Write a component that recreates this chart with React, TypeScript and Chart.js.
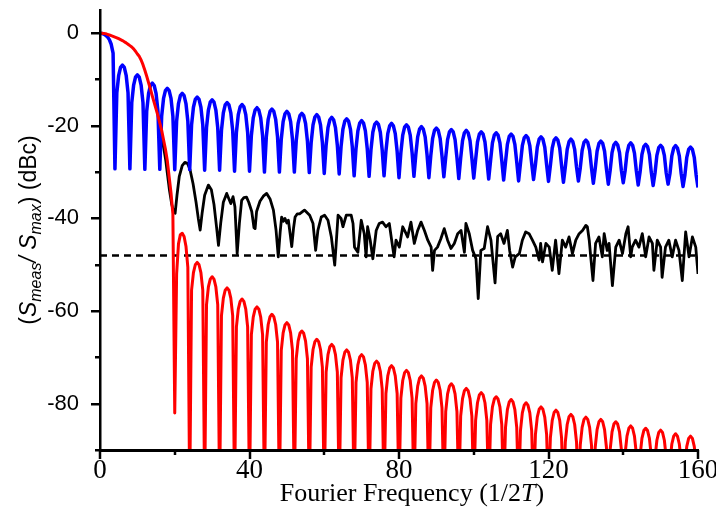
import React, { useEffect, useRef } from 'react';
import { Chart, registerables } from 'chart.js';

Chart.register(...registerables);

// ---------------- data ----------------
// Both modelled spectra are sampled every 0.5 units of Fourier frequency, starting at 0.
const FREQ_STEP = 0.5;

// Blue trace (dBc), samples at 0, 0.5, 1, ... 160
const blueDb: number[] = [
  0, -0.05, -0.2, -0.45, -0.8, -1.4, -2.4, -4.3,
  -29.3, -12.9, -9.1, -7.4, -6.9, -7.4, -9.1, -12.9,
  -29.3, -15.0, -11.2, -9.5, -9.0, -9.5, -11.2, -15.0,
  -29.4, -16.8, -13.0, -11.3, -10.8, -11.3, -13.0, -16.8,
  -29.4, -17.9, -14.1, -12.4, -11.9, -12.4, -14.1, -17.9,
  -29.5, -19.0, -15.2, -13.5, -13.0, -13.5, -15.2, -19.0,
  -29.5, -19.8, -16.0, -14.3, -13.8, -14.3, -16.0, -19.8,
  -29.6, -20.4, -16.6, -14.9, -14.4, -14.9, -16.6, -20.4,
  -29.6, -21.0, -17.2, -15.5, -15.0, -15.5, -17.2, -21.0,
  -29.8, -21.4, -17.6, -15.9, -15.4, -15.9, -17.6, -21.4,
  -29.8, -22.1, -18.3, -16.6, -16.1, -16.6, -18.3, -22.1,
  -30.0, -22.4, -18.6, -16.9, -16.4, -16.9, -18.6, -22.4,
  -30.0, -22.9, -19.1, -17.4, -16.9, -17.4, -19.1, -22.9,
  -30.0, -23.3, -19.5, -17.8, -17.3, -17.8, -19.5, -23.3,
  -30.1, -23.6, -19.8, -18.1, -17.6, -18.1, -19.8, -23.6,
  -30.3, -24.2, -20.4, -18.7, -18.2, -18.7, -20.4, -24.2,
  -30.4, -24.5, -20.7, -19.0, -18.5, -19.0, -20.7, -24.5,
  -30.8, -24.9, -21.1, -19.4, -18.9, -19.4, -21.1, -24.9,
  -30.9, -25.2, -21.4, -19.7, -19.2, -19.7, -21.4, -25.2,
  -30.8, -25.5, -21.7, -20.0, -19.5, -20.0, -21.7, -25.5,
  -31.2, -25.8, -22.0, -20.3, -19.8, -20.3, -22.0, -25.8,
  -30.9, -26.2, -22.4, -20.7, -20.2, -20.7, -22.4, -26.2,
  -31.2, -26.5, -22.7, -21.0, -20.5, -21.0, -22.7, -26.5,
  -31.0, -26.8, -23.0, -21.3, -20.8, -21.3, -23.0, -26.8,
  -31.4, -27.0, -23.2, -21.5, -21.0, -21.5, -23.2, -27.0,
  -31.3, -27.3, -23.5, -21.8, -21.3, -21.8, -23.5, -27.3,
  -31.5, -27.5, -23.7, -22.0, -21.5, -22.0, -23.7, -27.5,
  -31.7, -27.8, -24.0, -22.3, -21.8, -22.3, -24.0, -27.8,
  -31.9, -28.1, -24.3, -22.6, -22.1, -22.6, -24.3, -28.1,
  -31.6, -28.4, -24.6, -22.9, -22.4, -22.9, -24.6, -28.4,
  -32.0, -28.6, -24.8, -23.1, -22.6, -23.1, -24.8, -28.6,
  -32.2, -28.9, -25.1, -23.4, -22.9, -23.4, -25.1, -28.9,
  -31.9, -29.1, -25.3, -23.6, -23.1, -23.6, -25.3, -29.1,
  -32.4, -29.3, -25.5, -23.8, -23.3, -23.8, -25.5, -29.3,
  -32.6, -29.6, -25.8, -24.1, -23.6, -24.1, -25.8, -29.6,
  -32.3, -29.7, -25.9, -24.2, -23.7, -24.2, -25.9, -29.7,
  -32.8, -30.0, -26.2, -24.5, -24.0, -24.5, -26.2, -30.0,
  -32.9, -30.2, -26.4, -24.7, -24.2, -24.7, -26.4, -30.2,
  -32.6, -30.3, -26.5, -24.8, -24.3, -24.8, -26.5, -30.3,
  -33.1, -30.6, -26.8, -25.1, -24.6, -25.1, -26.8, -30.6,
  -33.3,
];

// Red trace (dBc), samples at 0, 0.5, 1, ... 160 (nulls fall below the -90 floor)
const redDb: number[] = [
  0, 0, -0.05, -0.1, -0.25, -0.4, -0.55, -0.7,
  -0.85, -1.0, -1.2, -1.4, -1.6, -1.85, -2.1, -2.4,
  -2.7, -3.0, -3.4, -3.9, -4.5, -5.0, -5.8, -6.8,
  -8.0, -9.3, -10.7, -12.1, -13.6, -15.0, -16.4, -17.8,
  -19.4, -21.0, -23.0, -25.0, -27.5, -31.0, -34.5, -39.0,
  -82.0, -52.0, -45.5, -43.5, -43.2, -43.9, -46.0, -50.5,
  -100, -55.5, -51.7, -50.0, -49.5, -50.0, -51.7, -55.5,
  -100, -58.6, -54.8, -53.1, -52.6, -53.1, -54.8, -58.6,
  -100, -61.0, -57.2, -55.5, -55.0, -55.5, -57.2, -61.0,
  -100, -63.4, -59.6, -57.9, -57.4, -57.9, -59.6, -63.4,
  -100, -65.1, -61.3, -59.6, -59.1, -59.6, -61.3, -65.1,
  -100, -66.7, -62.9, -61.2, -60.7, -61.2, -62.9, -66.7,
  -100, -68.5, -64.7, -63.0, -62.5, -63.0, -64.7, -68.5,
  -100, -70.3, -66.5, -64.8, -64.3, -64.8, -66.5, -70.3,
  -100, -72.1, -68.3, -66.6, -66.1, -66.6, -68.3, -72.1,
  -100, -73.2, -69.4, -67.7, -67.2, -67.7, -69.4, -73.2,
  -100, -74.4, -70.6, -68.9, -68.4, -68.9, -70.6, -74.4,
  -100, -75.4, -71.6, -69.9, -69.4, -69.9, -71.6, -75.4,
  -100, -76.8, -73.0, -71.3, -70.8, -71.3, -73.0, -76.8,
  -100, -77.8, -74.0, -72.3, -71.8, -72.3, -74.0, -77.8,
  -100, -78.8, -75.0, -73.3, -72.8, -73.3, -75.0, -78.8,
  -100, -80.0, -76.2, -74.5, -74.0, -74.5, -76.2, -80.0,
  -100, -80.9, -77.1, -75.4, -74.9, -75.4, -77.1, -80.9,
  -100, -81.7, -77.9, -76.2, -75.7, -76.2, -77.9, -81.7,
  -100, -82.7, -78.9, -77.2, -76.7, -77.2, -78.9, -82.7,
  -100, -83.6, -79.8, -78.1, -77.6, -78.1, -79.8, -83.6,
  -100, -84.5, -80.7, -79.0, -78.5, -79.0, -80.7, -84.5,
  -100, -85.1, -81.3, -79.6, -79.1, -79.6, -81.3, -85.1,
  -100, -85.8, -82.0, -80.3, -79.8, -80.3, -82.0, -85.8,
  -100, -86.7, -82.9, -81.2, -80.7, -81.2, -82.9, -86.7,
  -100, -87.4, -83.6, -81.9, -81.4, -81.9, -83.6, -87.4,
  -100, -88.3, -84.5, -82.8, -82.3, -82.8, -84.5, -88.3,
  -100, -88.9, -85.1, -83.4, -82.9, -83.4, -85.1, -88.9,
  -100, -89.4, -85.6, -83.9, -83.4, -83.9, -85.6, -89.4,
  -100, -89.9, -86.1, -84.4, -83.9, -84.4, -86.1, -89.9,
  -100, -90.8, -87.0, -85.3, -84.8, -85.3, -87.0, -90.8,
  -100, -91.3, -87.5, -85.8, -85.3, -85.8, -87.5, -91.3,
  -100, -91.7, -87.9, -86.2, -85.7, -86.2, -87.9, -91.7,
  -100, -92.5, -88.7, -87.0, -86.5, -87.0, -88.7, -92.5,
  -100, -93.0, -89.2, -87.5, -87.0, -87.5, -89.2, -93.0,
  -100,
];

// Black measured trace: [frequency, dBc]
const blackTrace: [number, number][] = [
  [16.1, -21.0], [16.6, -23.0], [17.1, -25.0], [17.6, -27.5], [18.1, -30.8], [18.6, -34.0],
  [19.2, -37.0], [19.7, -38.6], [20.1, -38.9], [20.6, -35.0], [21.2, -31.0], [22.0, -28.6],
  [22.7, -27.9], [23.4, -28.1], [24.1, -29.5], [24.9, -32.5], [25.7, -36.5], [26.3, -40.0],
  [26.8, -42.5], [27.3, -39.0], [28.0, -35.0], [29.0, -32.8], [29.8, -33.8], [30.5, -37.0],
  [31.2, -42.0], [31.7, -45.8], [32.3, -41.0], [33.0, -36.5], [33.9, -34.6], [34.5, -35.8],
  [35.0, -36.8], [35.6, -35.3], [36.1, -37.5], [36.7, -47.6], [37.3, -41.0], [37.9, -36.1],
  [38.5, -35.5], [39.2, -35.4], [39.8, -36.5], [40.6, -38.5], [41.2, -42.0], [41.5, -42.2],
  [41.9, -38.5], [42.8, -36.3], [43.7, -35.2], [44.6, -34.6], [45.5, -35.8], [46.4, -38.2],
  [47.1, -42.5], [47.7, -48.3], [48.2, -43.0], [48.6, -39.7], [49.1, -40.6], [49.5, -40.0],
  [50.0, -41.0], [50.4, -40.4], [50.9, -43.5], [51.3, -46.1], [51.8, -42.0], [52.2, -39.7],
  [52.8, -39.0], [53.4, -39.0], [54.7, -38.2], [56.1, -39.3], [57.0, -41.1], [57.7, -46.9],
  [58.3, -42.6], [59.2, -39.7], [60.1, -39.3], [61.0, -40.4], [61.9, -44.0], [62.8, -50.1],
  [63.2, -45.4], [63.7, -39.3], [64.5, -40.0], [65.0, -41.8], [65.9, -39.3], [67.2, -39.3],
  [67.7, -41.1], [68.1, -46.2], [69.0, -47.3], [69.9, -40.4], [70.7, -43.3], [71.2, -48.3],
  [71.6, -41.8], [72.3, -44.7], [73.0, -48.7], [73.9, -42.6], [74.7, -41.1], [75.6, -40.8],
  [76.5, -41.8], [77.4, -41.1], [78.3, -46.2], [78.7, -48.3], [79.2, -44.7], [80.1, -46.2],
  [81.0, -41.8], [81.9, -43.3], [82.3, -44.0], [83.2, -40.8], [84.1, -45.4], [85.0, -42.6],
  [85.9, -40.8], [86.8, -42.6], [87.7, -44.7], [88.6, -46.2], [89.0, -51.2], [89.5, -46.9],
  [90.3, -46.2], [91.2, -44.4], [92.1, -42.2], [93.0, -44.7], [93.9, -46.5], [94.8, -45.4],
  [95.7, -43.3], [96.6, -42.6], [97.5, -47.3], [97.9, -41.1], [98.8, -43.3], [99.7, -46.9],
  [100.6, -48.7], [101.2, -57.3], [101.9, -46.9], [102.8, -46.5], [103.7, -41.8], [104.6, -44.7],
  [105.7, -53.9], [106.4, -43.9], [107.2, -43.3], [108.1, -45.4], [109.0, -42.6], [109.6, -46.9],
  [110.4, -50.5], [111.1, -48.3], [112.2, -47.6], [113.0, -44.7], [113.9, -42.9], [114.8, -43.3],
  [115.7, -44.7], [116.6, -46.2], [117.5, -49.0], [117.9, -45.4], [118.4, -49.4], [119.3, -45.4],
  [120.2, -46.2], [121.0, -51.2], [121.9, -44.7], [122.8, -51.9], [123.7, -44.7], [124.6, -46.2],
  [125.5, -44.0], [126.4, -47.6], [127.3, -44.7], [128.2, -43.3], [129.1, -42.6], [130.0, -41.5],
  [130.4, -41.8], [130.9, -44.7], [131.3, -48.3], [131.9, -53.4], [132.6, -45.4], [133.5, -44.0],
  [134.4, -48.3], [134.9, -43.3], [135.7, -46.9], [136.2, -45.4], [137.1, -54.5], [138.0, -46.2],
  [138.9, -44.7], [139.8, -47.6], [140.7, -43.3], [141.3, -41.8], [142.0, -48.3], [142.4, -46.2],
  [143.3, -44.7], [144.2, -46.2], [145.1, -43.3], [146.0, -48.3], [146.9, -44.0], [147.8, -45.4],
  [148.2, -51.2], [149.1, -44.7], [150.0, -46.2], [150.4, -52.7], [151.3, -46.2], [152.2, -44.7],
  [153.1, -48.3], [154.0, -44.7], [154.9, -46.9], [155.8, -53.4], [156.7, -42.9], [157.6, -48.3],
  [158.5, -44.0], [159.4, -46.2], [160.0, -52.0],
];

// Dashed reference level
const thresholdDb = -48;
const thresholdSpan = [0, 160];

// Axes
const X_MIN = 0;
const X_MAX = 160;
const Y_MIN = -90;
const Y_MAX = 5;
const xTickValues = [0, 20, 40, 60, 80, 100, 120, 140, 160];
const xLabelValues = [0, 40, 80, 120, 160];
const yTickValues = [0, -10, -20, -30, -40, -50, -60, -70, -80, -90];
const yLabelValues = [0, -20, -40, -60, -80];

const SERIF = '"Liberation Serif", "Times New Roman", serif';
const SANS = '"Liberation Sans", Arial, sans-serif';

// ---------------- plugins ----------------
const tickMarksPlugin = {
  id: 'tickMarks',
  afterDraw(chart: any) {
    const { ctx, chartArea } = chart;
    const xs = chart.scales.x;
    const ys = chart.scales.y;
    ctx.save();
    ctx.strokeStyle = '#000';
    ctx.lineWidth = 2.5;
    ctx.lineCap = 'butt';
    for (const v of yTickValues) {
      const py = Math.round(ys.getPixelForValue(v)) + 0.25;
      const len = yLabelValues.includes(v) ? 9 : 5;
      ctx.beginPath();
      ctx.moveTo(chartArea.left - len, py);
      ctx.lineTo(chartArea.left, py);
      ctx.stroke();
    }
    for (const v of xTickValues) {
      const px = Math.round(xs.getPixelForValue(v));
      const len = xLabelValues.includes(v) ? 9 : 5;
      ctx.beginPath();
      ctx.moveTo(px, chartArea.bottom);
      ctx.lineTo(px, chartArea.bottom + len);
      ctx.stroke();
    }
    ctx.restore();
  },
};

type Part = { text: string; font: string; shift: number };

function drawParts(ctx: CanvasRenderingContext2D, parts: Part[], cx: number, baseline: number) {
  let total = 0;
  for (const p of parts) {
    ctx.font = p.font;
    total += ctx.measureText(p.text).width;
  }
  let x = cx - total / 2;
  for (const p of parts) {
    ctx.font = p.font;
    ctx.fillText(p.text, x, baseline + p.shift);
    x += ctx.measureText(p.text).width;
  }
}

const axisTitlesPlugin = {
  id: 'axisTitles',
  afterDraw(chart: any) {
    const { ctx, chartArea } = chart;
    ctx.save();
    ctx.fillStyle = '#000';
    ctx.textAlign = 'left';
    ctx.textBaseline = 'alphabetic';

    // x-axis title
    const xParts: Part[] = [
      { text: 'Fourier Frequency (1/2', font: `26px ${SERIF}`, shift: 0 },
      { text: 'T', font: `italic 26px ${SERIF}`, shift: 0 },
      { text: ')', font: `26px ${SERIF}`, shift: 0 },
    ];
    drawParts(ctx, xParts, (chartArea.left + chartArea.right) / 2 + 13, chartArea.bottom + 51);

    // y-axis title (rotated)
    ctx.translate(36, (chartArea.top + chartArea.bottom) / 2);
    ctx.rotate(-Math.PI / 2);
    const yParts: Part[] = [
      { text: '(', font: `23px ${SANS}`, shift: 0 },
      { text: 'S', font: `italic 23px ${SANS}`, shift: 0 },
      { text: 'meas', font: `italic 16px ${SANS}`, shift: 5 },
      { text: '/ ', font: `italic 23px ${SANS}`, shift: 0 },
      { text: 'S', font: `italic 23px ${SANS}`, shift: 0 },
      { text: 'max', font: `italic 16px ${SANS}`, shift: 5 },
      { text: ') (dBc)', font: `23px ${SANS}`, shift: 0 },
    ];
    drawParts(ctx, yParts, 0, 0);
    ctx.restore();
  },
};

// ---------------- component ----------------
export default function App() {
  const canvasRef = useRef<HTMLCanvasElement | null>(null);

  useEffect(() => {
    const canvas = canvasRef.current;
    if (!canvas) return;

    const redPoints = redDb.map((y, i) => ({ x: i * FREQ_STEP, y }));
    const bluePoints = blueDb.map((y, i) => ({ x: i * FREQ_STEP, y }));
    const blackPoints = blackTrace.map(([x, y]) => ({ x, y }));
    const thresholdPoints = thresholdSpan.map((x) => ({ x, y: thresholdDb }));

    const chart = new Chart(canvas, {
      type: 'line',
      data: {
        datasets: [
          { label: 'red', data: redPoints, borderColor: '#ff0000', borderWidth: 3, order: 0 },
          { label: 'blue', data: bluePoints, borderColor: '#0000ff', borderWidth: 3.5, order: 1 },
          { label: 'black', data: blackPoints, borderColor: '#000000', borderWidth: 2.8, order: 2 },
          {
            label: 'threshold',
            data: thresholdPoints,
            borderColor: '#000000',
            borderWidth: 2.5,
            borderDash: [7, 5],
            order: 3,
          },
        ],
      },
      options: {
        animation: false,
        responsive: false,
        devicePixelRatio: 1,
        layout: { padding: { left: 0, right: 18, top: 10, bottom: 0 } },
        elements: {
          point: { radius: 0, hoverRadius: 0 },
          line: { tension: 0, fill: false, borderJoinStyle: 'round', borderCapStyle: 'butt' },
        },
        plugins: {
          legend: { display: false },
          tooltip: { enabled: false },
          title: { display: false },
        },
        events: [],
        scales: {
          x: {
            type: 'linear',
            position: 'bottom',
            min: X_MIN,
            max: X_MAX,
            afterBuildTicks: (scale: any) => {
              scale.ticks = xTickValues.map((value) => ({ value }));
            },
            afterFit: (scale: any) => {
              scale.height = 66;
              scale.paddingLeft = 0;
              scale.paddingRight = 0;
            },
            grid: { display: false },
            border: { display: true, color: '#000', width: 3, z: 1 },
            ticks: {
              autoSkip: false,
              maxRotation: 0,
              minRotation: 0,
              padding: -3,
              color: '#000',
              font: { family: SERIF, size: 27 },
              callback: (v: any) => (xLabelValues.includes(Number(v)) ? String(v) : ''),
            },
          },
          y: {
            type: 'linear',
            min: Y_MIN,
            max: Y_MAX,
            afterBuildTicks: (scale: any) => {
              scale.ticks = yTickValues.map((value) => ({ value }));
            },
            afterFit: (scale: any) => {
              scale.width = 100;
              scale.paddingTop = 0;
              scale.paddingBottom = 0;
            },
            grid: { display: false },
            border: { display: true, color: '#000', width: 2.5, z: 1 },
            ticks: {
              autoSkip: false,
              padding: 13,
              color: '#000',
              font: { family: SANS, size: 22 },
              callback: (v: any) => (yLabelValues.includes(Number(v)) ? String(v) : ''),
            },
          },
        },
      },
      plugins: [tickMarksPlugin, axisTitlesPlugin],
    } as any);

    return () => {
      chart.destroy();
    };
  }, []);

  return (
    <div style={{ position: 'absolute', left: 0, top: 0, width: 716, height: 516, background: '#fff' }}>
      <canvas ref={canvasRef} width={716} height={516} style={{ display: 'block' }} />
    </div>
  );
}
